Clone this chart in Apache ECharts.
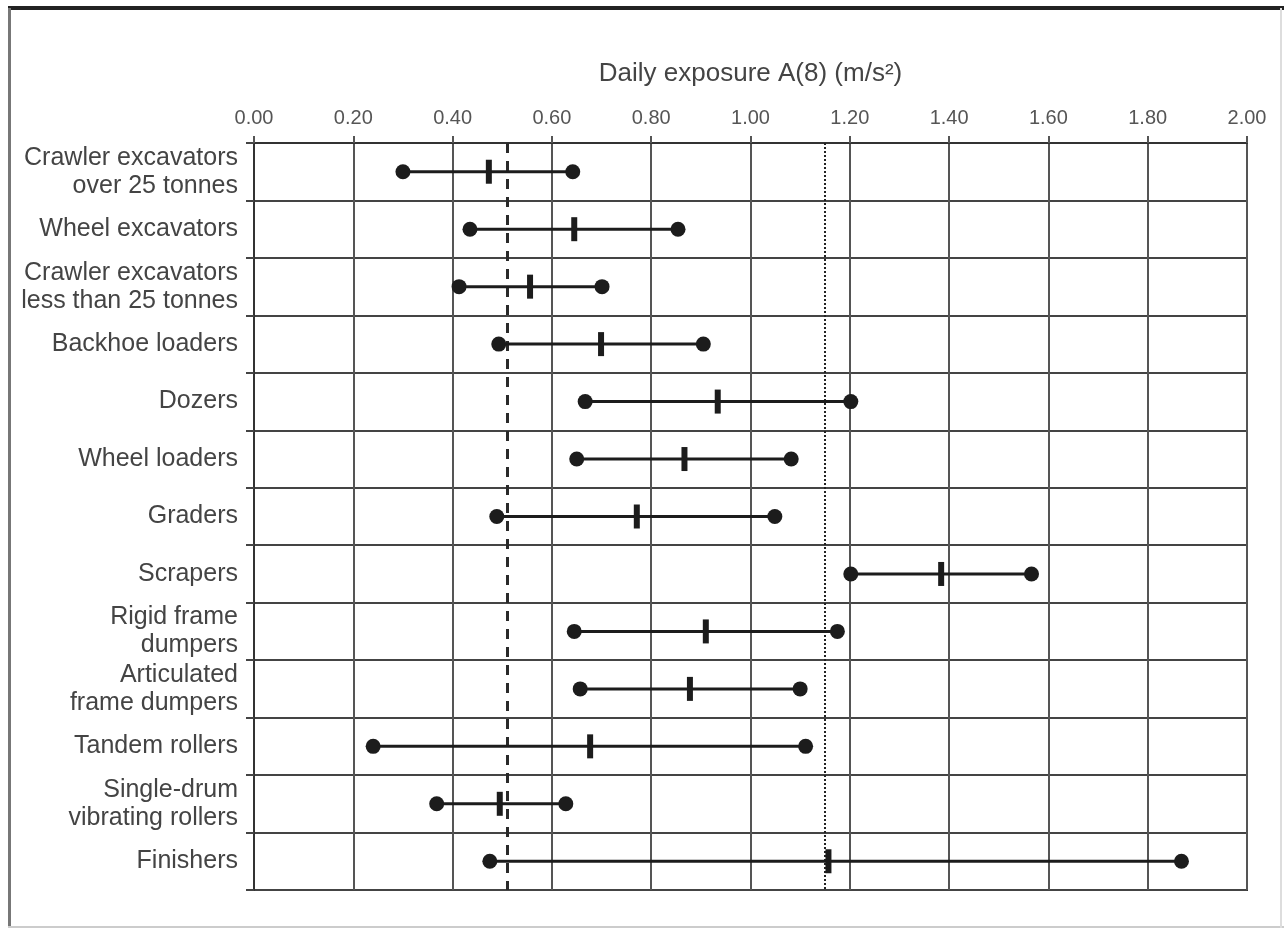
<!DOCTYPE html>
<html><head><meta charset="utf-8">
<script src="https://cdn.jsdelivr.net/npm/echarts@6/dist/echarts.min.js"></script>
<style>html,body{margin:0;padding:0;background:#fff}#c{width:1284px;height:930px}</style>
</head><body><div id="c"></div>
<script>
const categories = [
  'Crawler excavators\nover 25 tonnes',
  'Wheel excavators',
  'Crawler excavators\nless than 25 tonnes',
  'Backhoe loaders',
  'Dozers',
  'Wheel loaders',
  'Graders',
  'Scrapers',
  'Rigid frame\ndumpers',
  'Articulated\nframe dumpers',
  'Tandem rollers',
  'Single-drum\nvibrating rollers',
  'Finishers'
];
const minValues  = [0.30, 0.435, 0.413, 0.493, 0.667, 0.650, 0.489, 1.202, 0.645, 0.657, 0.240, 0.368, 0.475];
const meanValues = [0.473, 0.645, 0.556, 0.699, 0.934, 0.867, 0.771, 1.384, 0.910, 0.878, 0.677, 0.495, 1.157];
const maxValues  = [0.642, 0.854, 0.701, 0.905, 1.202, 1.082, 1.049, 1.566, 1.175, 1.100, 1.111, 0.628, 1.868];
const actionValue = 0.506;
const limitValue = 1.15;
const axisTitle = 'Daily exposure A(8) (m/s²)';

const rows = categories.map((c, i) => [i, minValues[i], meanValues[i], maxValues[i]]);
const ink = '#1c1c1c';
const font = '"Liberation Sans", Arial, sans-serif';

const chart = echarts.init(document.getElementById('c'), null, {renderer: 'canvas'});
chart.setOption({
  backgroundColor: '#fff',
  animation: false,
  grid: {left: 254, right: 37, top: 143, bottom: 40, show: true, borderColor: '#333', borderWidth: 2, backgroundColor: 'transparent'},
  xAxis: {
    type: 'value', position: 'top', min: 0, max: 2, interval: 0.2,
    name: axisTitle, nameLocation: 'middle', nameGap: 56,
    nameTextStyle: {fontFamily: font, fontSize: 26, color: '#444'},
    axisLine: {show: true, lineStyle: {color: '#333', width: 2}},
    axisTick: {show: true, inside: false, length: 7, lineStyle: {color: '#555', width: 2}},
    axisLabel: {margin: 15, fontFamily: font, fontSize: 20, color: '#555', formatter: v => v.toFixed(2)},
    splitLine: {show: true, lineStyle: {color: '#555', width: 2}}
  },
  yAxis: {
    type: 'category', data: categories, inverse: true,
    axisLine: {show: true, lineStyle: {color: '#333', width: 2}},
    axisTick: {show: true, inside: false, length: 8, lineStyle: {color: '#444', width: 2}},
    axisLabel: {margin: 16, fontFamily: font, fontSize: 25, lineHeight: 28, color: '#444', align: 'right'},
    splitLine: {show: true, lineStyle: {color: '#444', width: 2}}
  },
  graphic: [
    {type: 'rect', shape: {x: 8, y: 6, width: 1276, height: 4}, style: {fill: '#222'}, silent: true},
    {type: 'rect', shape: {x: 8, y: 8, width: 3, height: 920}, style: {fill: '#777'}, silent: true},
    {type: 'rect', shape: {x: 8, y: 926, width: 1276, height: 2}, style: {fill: '#ccc'}, silent: true},
    {type: 'rect', shape: {x: 1280, y: 8, width: 2, height: 920}, style: {fill: '#ddd'}, silent: true}
  ],
  series: [
    {
      type: 'line', data: [], symbol: 'none', silent: true,
      markLine: {
        silent: true, symbol: ['none', 'none'], label: {show: false},
        data: [
          {xAxis: actionValue, lineStyle: {type: [10, 8], width: 3, color: '#2a2a2a'}},
          {xAxis: limitValue, lineStyle: {type: [2, 2], width: 2, color: '#222'}}
        ]
      }
    },
    {
      type: 'custom', data: rows, encode: {x: [1, 2, 3], y: 0}, z: 5,
      renderItem: function (params, api) {
        const c = api.value(0);
        const lo = api.coord([api.value(1), c]);
        const mid = api.coord([api.value(2), c]);
        const hi = api.coord([api.value(3), c]);
        return {
          type: 'group',
          children: [
            {type: 'line', shape: {x1: lo[0], y1: lo[1], x2: hi[0], y2: hi[1]}, style: {stroke: ink, lineWidth: 3}},
            {type: 'rect', shape: {x: mid[0] - 3, y: mid[1] - 12, width: 6, height: 24}, style: {fill: ink}},
            {type: 'circle', shape: {cx: lo[0], cy: lo[1], r: 7.5}, style: {fill: ink}},
            {type: 'circle', shape: {cx: hi[0], cy: hi[1], r: 7.5}, style: {fill: ink}}
          ]
        };
      }
    }
  ]
});
</script></body></html>
